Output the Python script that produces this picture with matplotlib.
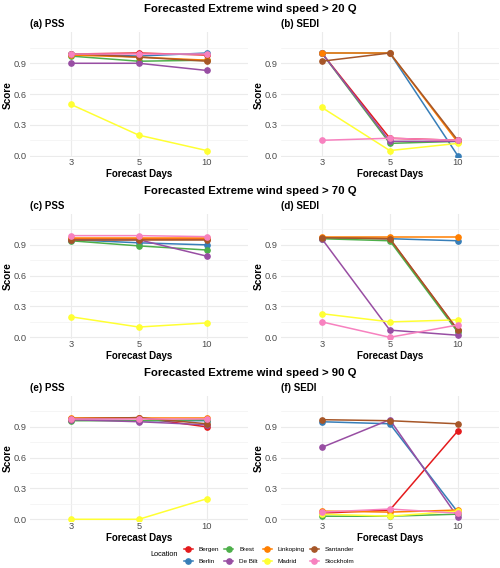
import matplotlib
matplotlib.use("Agg")
import matplotlib.pyplot as plt
from matplotlib.lines import Line2D

plt.rcParams['font.family'] = ['Liberation Sans', 'DejaVu Sans']

days = ["3", "5", "10"]
locations = ["Bergen", "Berlin", "Brest", "De Bilt", "Linkoping", "Madrid", "Santander", "Stockholm"]
colors = ["#E41A1C", "#377EB8", "#4DAF4A", "#984EA3", "#FF7F00", "#FFFF33", "#A65628", "#F781BF"]
thresholds = ["20", "70", "90"]

pss_20 = {
    "Bergen": [0.99, 1.00, 0.98], "Berlin": [0.99, 0.97, 1.00], "Brest": [0.97, 0.92, 0.93],
    "De Bilt": [0.90, 0.90, 0.83], "Linkoping": [0.98, 0.96, 0.93], "Madrid": [0.50, 0.20, 0.05],
    "Santander": [0.995, 0.96, 0.92], "Stockholm": [0.99, 0.99, 0.99]}
sedi_20 = {
    "Bergen": [1.00, 0.17, 0.15], "Berlin": [1.00, 1.00, 0.00], "Brest": [1.00, 0.12, 0.14],
    "De Bilt": [1.00, 0.14, 0.14], "Linkoping": [1.00, 1.00, 0.13], "Madrid": [0.47, 0.05, 0.12],
    "Santander": [0.92, 1.00, 0.15], "Stockholm": [0.15, 0.17, 0.15]}
pss_70 = {
    "Bergen": [0.96, 0.96, 0.96], "Berlin": [0.95, 0.92, 0.90], "Brest": [0.94, 0.89, 0.85],
    "De Bilt": [0.95, 0.95, 0.79], "Linkoping": [0.97, 0.97, 0.97], "Madrid": [0.20, 0.10, 0.14],
    "Santander": [0.95, 0.95, 0.95], "Stockholm": [0.99, 0.99, 0.98]}
sedi_70 = {
    "Bergen": [0.97, 0.96, 0.07], "Berlin": [0.97, 0.96, 0.94], "Brest": [0.96, 0.94, 0.05],
    "De Bilt": [0.96, 0.07, 0.02], "Linkoping": [0.98, 0.98, 0.98], "Madrid": [0.23, 0.15, 0.17],
    "Santander": [0.97, 0.96, 0.07], "Stockholm": [0.15, 0.00, 0.12]}
pss_90 = {
    "Bergen": [0.98, 0.99, 0.90], "Berlin": [0.97, 0.96, 0.96], "Brest": [0.96, 0.96, 0.97],
    "De Bilt": [0.97, 0.95, 0.92], "Linkoping": [0.99, 0.99, 0.99], "Madrid": [0.00, 0.00, 0.20],
    "Santander": [0.98, 0.99, 0.93], "Stockholm": [0.98, 0.98, 0.98]}
sedi_90 = {
    "Bergen": [0.06, 0.09, 0.86], "Berlin": [0.95, 0.93, 0.07], "Brest": [0.03, 0.03, 0.05],
    "De Bilt": [0.70, 0.97, 0.02], "Linkoping": [0.08, 0.07, 0.09], "Madrid": [0.05, 0.03, 0.08],
    "Santander": [0.97, 0.96, 0.93], "Stockholm": [0.07, 0.10, 0.06]}

panels = [
    [("(a) PSS", pss_20), ("(b) SEDI", sedi_20)],
    [("(c) PSS", pss_70), ("(d) SEDI", sedi_70)],
    [("(e) PSS", pss_90), ("(f) SEDI", sedi_90)],
]

W, H = 500, 568
fig = plt.figure(figsize=(W / 100, H / 100), dpi=100)

def px_axes(x0, y0, x1, y1):
    return fig.add_axes([x0 / W, 1 - y1 / H, (x1 - x0) / W, (y1 - y0) / H])

row_zero = [155.7, 337.3, 519.3]
scale = 102.7
ymin, ymax = -0.015, 1.2
col_x = [(30, 247.6), (281, 498.6)]

for r, row in enumerate(panels):
    z = row_zero[r]
    top = z - ymax * scale
    bot = z - ymin * scale
    fig.text(0.5, 1 - (z - 146.5) / H, f"Forecasted Extreme wind speed > {thresholds[r]} Q",
             ha="center", va="center", fontsize=8.2, fontweight="bold")
    for c, (tag, data) in enumerate(row):
        x0, x1 = col_x[c]
        ax = px_axes(x0, top, x1, bot)
        xs = list(range(len(days)))
        for loc, col in zip(locations, colors):
            ax.plot(xs, data[loc], color=col, lw=1.1, marker="o", ms=3.8,
                    solid_capstyle="butt", zorder=3)
        ax.set_xlim(-0.6, 2.6)
        ax.set_ylim(ymin, ymax)
        ax.set_xticks(xs)
        ax.set_xticklabels(days)
        ax.set_yticks([0.0, 0.3, 0.6, 0.9])
        ax.set_yticklabels(["0.0", "0.3", "0.6", "0.9"])
        ax.set_yticks([0.15, 0.45, 0.75, 1.05], minor=True)
        ax.grid(True, which="major", color="#EBEBEB", lw=0.8)
        ax.grid(True, which="minor", axis="y", color="#F2F2F2", lw=0.5)
        ax.set_axisbelow(True)
        for s in ax.spines.values():
            s.set_visible(False)
        ax.tick_params(which="both", length=0, labelsize=6.7, colors="#4D4D4D")
        ax.tick_params(axis="y", pad=2.5)
        ax.tick_params(axis="x", pad=0.5)
        ax.set_facecolor("none")
        fig.text(x0 / W, 1 - (z - 131.5) / H, tag, ha="left", va="center",
                 fontsize=7, fontweight="bold")
        fig.text((x0 - 22) / W, 1 - ((top + bot) / 2) / H, "Score", rotation=90,
                 ha="center", va="center", fontsize=7.2, fontweight="bold")
        fig.text(((x0 + x1) / 2) / W, 1 - (z + 18.7) / H, "Forecast Days",
                 ha="center", va="center", fontsize=7.0, fontweight="bold")

handles = [Line2D([0], [0], color=c, lw=1.1, marker="o", ms=3.8) for c in colors]
fig.text(150 / W, 1 - 555 / H, "Location", ha="left", va="center", fontsize=5.3)
leg = fig.legend(handles, locations, ncol=4, loc="center left",
                 bbox_to_anchor=(184 / W, 1 - 555.5 / H), frameon=False,
                 fontsize=4.6, handlelength=1.4, handletextpad=0.9,
                 columnspacing=0.8, labelspacing=1.1, borderpad=0, borderaxespad=0)

fig.savefig("out.png", dpi=100, facecolor="white")
